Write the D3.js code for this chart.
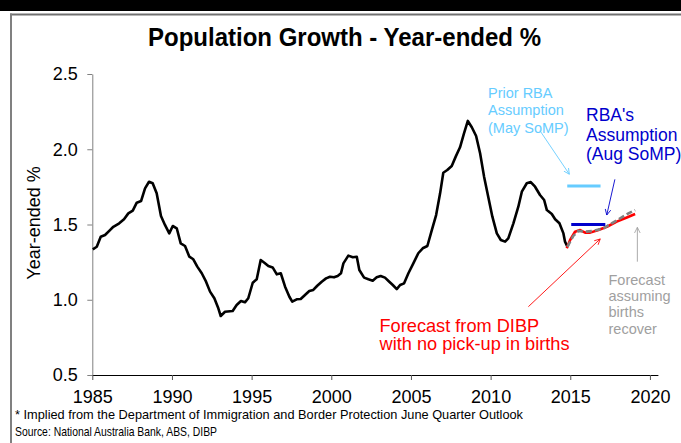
<!DOCTYPE html>
<html>
<head>
<meta charset="utf-8">
<script src="https://cdn.jsdelivr.net/npm/d3@7"></script>
<style>
  html, body { margin: 0; padding: 0; background: #fff; }
  svg { display: block; font-family: "Liberation Sans", Arial, sans-serif; }
</style>
</head>
<body>
<svg id="chart" width="681" height="443"></svg>
<script>
// Year-ended population growth, history (quarterly, %)
const histYears = [
  1985.03, 1985.28, 1985.53, 1985.80, 1986.11, 1986.32, 1986.69, 1986.99,
  1987.26, 1987.54, 1987.79, 1988.06, 1988.31, 1988.56, 1988.79, 1989.04,
  1989.31, 1989.56, 1989.83, 1990.05, 1990.30, 1990.55, 1990.82, 1991.09,
  1991.34, 1991.59, 1991.87, 1992.14, 1992.39, 1992.66, 1992.91, 1993.06,
  1993.33, 1993.81, 1994.06, 1994.33, 1994.58, 1994.79, 1995.07, 1995.32,
  1995.57, 1995.80, 1996.05, 1996.32, 1996.58, 1996.83, 1997.10, 1997.37,
  1997.55, 1997.83, 1998.08, 1998.35, 1998.62, 1998.87, 1999.12, 1999.40,
  1999.67, 1999.92, 2000.17, 2000.40, 2000.61, 2000.76, 2001.07, 2001.35,
  2001.60, 2001.76, 2002.06, 2002.33, 2002.60, 2002.85, 2003.10, 2003.37,
  2003.64, 2003.86, 2004.11, 2004.32, 2004.57, 2004.84, 2005.15, 2005.46,
  2005.74, 2006.03, 2006.31, 2006.58, 2006.83, 2007.03, 2007.28, 2007.56,
  2007.81, 2008.08, 2008.33, 2008.57, 2008.82, 2009.09, 2009.34, 2009.59,
  2009.86, 2010.11, 2010.39, 2010.64, 2010.91, 2011.11, 2011.43, 2011.74,
  2011.96, 2012.27, 2012.52, 2012.79, 2013.10, 2013.36, 2013.53, 2013.84,
  2014.05, 2014.32, 2014.57, 2014.67, 2014.82
];
const histValues = [
  1.335, 1.352, 1.419, 1.430, 1.463, 1.485, 1.508, 1.535,
  1.574, 1.592, 1.645, 1.656, 1.740, 1.784, 1.774, 1.707,
  1.556, 1.497, 1.441, 1.490, 1.475, 1.375, 1.357, 1.286,
  1.269, 1.220, 1.176, 1.120, 1.054, 1.010, 0.943, 0.892,
  0.920, 0.925, 0.965, 0.992, 0.983, 1.010, 1.113, 1.136,
  1.264, 1.246, 1.224, 1.215, 1.169, 1.176, 1.087, 1.020,
  0.987, 1.003, 1.005, 1.032, 1.058, 1.065, 1.093, 1.120,
  1.142, 1.153, 1.149, 1.158, 1.176, 1.242, 1.293, 1.282,
  1.286, 1.198, 1.147, 1.136, 1.127, 1.149, 1.158, 1.147,
  1.120, 1.098, 1.071, 1.098, 1.109, 1.176, 1.242, 1.309,
  1.342, 1.357, 1.463, 1.563, 1.707, 1.844, 1.862, 1.889,
  1.951, 2.013, 2.106, 2.188, 2.146, 2.088, 1.973, 1.818,
  1.680, 1.552, 1.441, 1.397, 1.386, 1.408, 1.508, 1.618,
  1.718, 1.774, 1.782, 1.751, 1.696, 1.663, 1.596, 1.570,
  1.535, 1.508, 1.441, 1.386, 1.352
];

// DIBP-implied forecast, no pick-up in births
const dibpYears  = [2014.78, 2014.99, 2015.30, 2015.62, 2015.93, 2016.25, 2016.77, 2017.30, 2017.92, 2018.55, 2019.07];
const dibpValues = [1.342, 1.397, 1.452, 1.463, 1.446, 1.446, 1.463, 1.485, 1.519, 1.547, 1.570];

// Forecast assuming births recover
const birthsYears  = [2014.82, 2015.19, 2015.51, 2015.93, 2016.45, 2017.08, 2017.60, 2018.13, 2018.65, 2019.07];
const birthsValues = [1.352, 1.424, 1.457, 1.452, 1.457, 1.474, 1.508, 1.541, 1.574, 1.596];

// RBA assumptions
const rbaMayYears  = [2014.81, 2016.90];
const rbaMayValues = [1.755, 1.755];
const rbaAugYears  = [2015.06, 2017.20];
const rbaAugValues = [1.50, 1.50];

// Axis ticks
const xTicks = [1985, 1990, 1995, 2000, 2005, 2010, 2015, 2020];
const yTicks = [0.5, 1.0, 1.5, 2.0, 2.5];

const svg = d3.select("#chart");
const W = 681, H = 443;

// Outer frame
svg.append("rect").attr("x", 0).attr("y", 0).attr("width", W).attr("height", 11).attr("fill", "#000");
svg.append("line").attr("x1", 10).attr("x2", W).attr("y1", 14.5).attr("y2", 14.5)
  .attr("stroke", "#707070").attr("stroke-width", 2);
svg.append("line").attr("x1", 11).attr("x2", 11).attr("y1", 13.5).attr("y2", H)
  .attr("stroke", "#808080").attr("stroke-width", 2);

const x = d3.scaleLinear().domain([1985, 2020.5]).range([92.3, 657.9]);
const y = d3.scaleLinear().domain([0.5, 2.5]).range([375, 74]);

// Title
svg.append("text")
  .attr("x", 344.5).attr("y", 46)
  .attr("text-anchor", "middle")
  .attr("font-size", 25).attr("font-weight", "bold")
  .attr("textLength", 393).attr("lengthAdjust", "spacingAndGlyphs")
  .text("Population Growth - Year-ended %");

// Y axis
const yAxis = svg.append("g")
  .attr("transform", `translate(${x(1985)},0)`)
  .call(d3.axisLeft(y).tickValues(yTicks).tickFormat(d3.format(".1f")).tickSize(5).tickSizeOuter(0).tickPadding(9.5));
yAxis.select(".domain").attr("stroke", "#808080");
yAxis.selectAll(".tick line").attr("stroke", "#808080");
yAxis.selectAll(".tick text").attr("font-size", 18).attr("fill", "#000")
  .attr("font-family", "'Liberation Sans', Arial, sans-serif");

// X axis
const xAxis = svg.append("g")
  .attr("transform", `translate(0,${y(0.5)})`)
  .call(d3.axisBottom(x).tickValues(xTicks).tickFormat(d3.format("d")).tickSize(5).tickSizeOuter(0).tickPadding(10));
xAxis.select(".domain").attr("stroke", "#000");
xAxis.selectAll(".tick line").attr("stroke", "#555");
xAxis.selectAll(".tick text").attr("font-size", 18).attr("fill", "#000")
  .attr("font-family", "'Liberation Sans', Arial, sans-serif");

// Y axis title
svg.append("text")
  .attr("transform", "translate(40,223) rotate(-90)")
  .attr("text-anchor", "middle")
  .attr("font-size", 18)
  .text("Year-ended %");

const line = d3.line().x(d => x(d[0])).y(d => y(d[1]));
const zip = (a, b) => a.map((v, i) => [v, b[i]]);

// RBA assumption bars
svg.append("path").datum(zip(rbaMayYears, rbaMayValues)).attr("d", line)
  .attr("fill", "none").attr("stroke", "#66ccff").attr("stroke-width", 3);
svg.append("path").datum(zip(rbaAugYears, rbaAugValues)).attr("d", line)
  .attr("fill", "none").attr("stroke", "#0000cc").attr("stroke-width", 3);

// History
svg.append("path").datum(zip(histYears, histValues)).attr("d", line)
  .attr("fill", "none").attr("stroke", "#000").attr("stroke-width", 2.6)
  .attr("stroke-linejoin", "round");

// Forecasts
svg.append("path").datum(zip(dibpYears, dibpValues)).attr("d", line)
  .attr("fill", "none").attr("stroke", "#ff0000").attr("stroke-width", 2.6)
  .attr("stroke-linejoin", "round");
svg.append("path").datum(zip(birthsYears, birthsValues)).attr("d", line)
  .attr("fill", "none").attr("stroke", "#808080").attr("stroke-width", 2.6)
  .attr("stroke-dasharray", "6,3");

// Arrow markers
const defs = svg.append("defs");
function marker(id, color) {
  defs.append("marker").attr("id", id)
    .attr("viewBox", "0 0 10 10").attr("refX", 9).attr("refY", 5)
    .attr("markerWidth", 7).attr("markerHeight", 7).attr("orient", "auto")
    .attr("markerUnits", "userSpaceOnUse")
    .append("path").attr("d", "M1,1 L9,5 L1,9")
    .attr("fill", "none").attr("stroke", color).attr("stroke-width", 1.2);
}
marker("arr-light", "#66ccff");
marker("arr-dark", "#0000cc");
marker("arr-grey", "#a0a0a0");
marker("arr-red", "#ff0000");

// Callout arrows, in data space: [fromYear, fromValue, toYear, toValue]
const arrows = [
  { from: [2013.10, 2.123], to: [2014.94, 1.834], color: "#66ccff", id: "arr-light" },
  { from: [2017.80, 1.800], to: [2017.29, 1.563], color: "#0000cc", id: "arr-dark" },
  { from: [2019.21, 1.253], to: [2019.21, 1.481], color: "#a0a0a0", id: "arr-grey" },
  { from: [2012.37, 0.954], to: [2016.88, 1.404], color: "#ff0000", id: "arr-red" }
];
arrows.forEach(a => {
  svg.append("line")
    .attr("x1", x(a.from[0])).attr("y1", y(a.from[1]))
    .attr("x2", x(a.to[0])).attr("y2", y(a.to[1]))
    .attr("stroke", a.color).attr("stroke-width", 0.9)
    .attr("marker-end", `url(#${a.id})`);
});

// Callout labels
function label(lines, px, py, size, lh, color, anchor) {
  const t = svg.append("text").attr("font-size", size).attr("fill", color)
    .attr("text-anchor", anchor || "start");
  lines.forEach((s, i) => {
    t.append("tspan").attr("x", px).attr("y", py + i * lh).text(s);
  });
}
label(["Prior RBA", "Assumption", "(May SoMP)"], 488, 97.5, 14.5, 17.8, "#66ccff");
label(["RBA's", "Assumption", "(Aug SoMP)"], 586, 121, 17.5, 19.5, "#0000cc");
label(["Forecast", "assuming", "births", "recover"], 608.5, 284.5, 14.5, 16.4, "#a0a0a0");
label(["Forecast from DIBP", "with no pick-up in births"], 379.5, 331.5, 18.2, 18.5, "#ff0000");

// Footnotes
const foot = [
  { s: "* Implied from the Department of Immigration and Border Protection June Quarter Outlook", w: 508, y: 419 },
  { s: "Source: National Australia Bank, ABS, DIBP", w: 202, y: 436 }
];
foot.forEach(f => {
  svg.append("text").attr("x", 15).attr("y", f.y)
    .attr("font-size", 13.5)
    .attr("font-family", "'Liberation Sans Narrow', 'Liberation Sans', Arial, sans-serif")
    .attr("textLength", f.w).attr("lengthAdjust", "spacingAndGlyphs")
    .text(f.s);
});
</script>
</body>
</html>
